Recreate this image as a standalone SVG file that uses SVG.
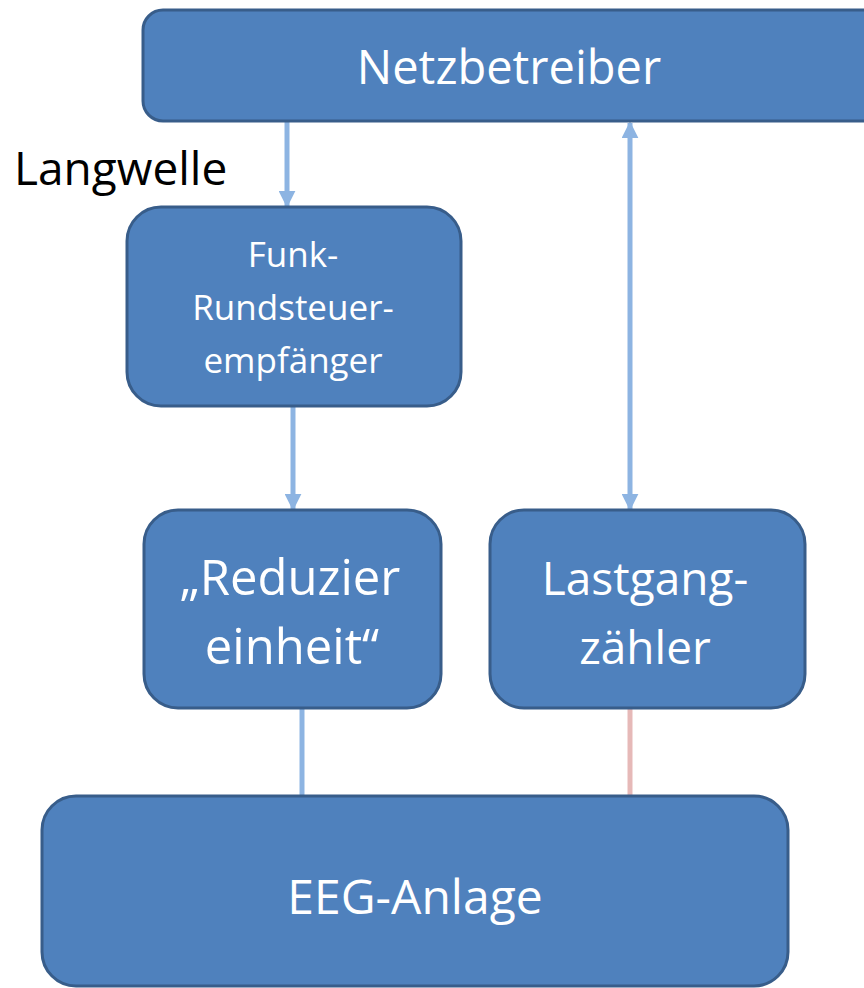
<svg xmlns="http://www.w3.org/2000/svg" width="864" height="988" viewBox="0 0 864 988">
<defs>
<style>
.box{fill:#4F81BD;stroke:#385D8A;stroke-width:3}
.t{font-family:"Open Sans","Liberation Sans",sans-serif;fill:#FFFFFF;text-anchor:middle}
.c{stroke:#8DB4E2;stroke-width:5;fill:none}
.p{stroke:#E6B9B8;stroke-width:5;fill:none}
</style>
<marker id="ah" viewBox="0 0 10 10" refX="9" refY="5" markerWidth="3.4" markerHeight="3.4" orient="auto-start-reverse" markerUnits="strokeWidth">
<path d="M0,0 L10,5 L0,10 Z" fill="#8DB4E2"/>
</marker>
</defs>
<rect width="864" height="988" fill="#FFFFFF"/>
<g id="connectors">
<line class="c" x1="287" y1="122" x2="287" y2="206" marker-end="url(#ah)"/>
<line class="c" x1="293" y1="407" x2="293" y2="509" marker-end="url(#ah)"/>
<line class="c" x1="630" y1="123" x2="630" y2="509" marker-start="url(#ah)" marker-end="url(#ah)"/>
<line class="c" x1="302" y1="708" x2="302" y2="796"/>
<line class="p" x1="630" y1="708" x2="630" y2="796"/>
</g>
<g id="netzbetreiber">
<rect class="box" x="143" y="10" width="740" height="111" rx="20"/>
<text class="t" x="509" y="84" font-size="47">Netzbetreiber</text>
</g>
<g id="langwelle-label">
<text x="14" y="185" font-family="Open Sans,Liberation Sans,sans-serif" font-size="46" fill="#000000">Langwelle</text>
</g>
<g id="funk">
<rect class="box" x="127" y="207" width="334" height="199" rx="34"/>
<text class="t" x="293" y="267" font-size="35">Funk-</text>
<text class="t" x="293" y="320" font-size="35">Rundsteuer-</text>
<text class="t" x="293" y="373" font-size="35">empfänger</text>
</g>
<g id="reduzier">
<rect class="box" x="144" y="510" width="297" height="198" rx="34"/>
<text class="t" x="290" y="595" font-size="49">„Reduzier</text>
<text class="t" x="292" y="664" font-size="49">einheit“</text>
</g>
<g id="lastgang">
<rect class="box" x="490" y="510" width="315" height="198" rx="34"/>
<text class="t" x="645" y="595" font-size="46">Lastgang-</text>
<text class="t" x="645" y="664" font-size="46">zähler</text>
</g>
<g id="eeg">
<rect class="box" x="42" y="796" width="746" height="190" rx="34"/>
<text class="t" x="415" y="914" font-size="48">EEG-Anlage</text>
</g>
</svg>
